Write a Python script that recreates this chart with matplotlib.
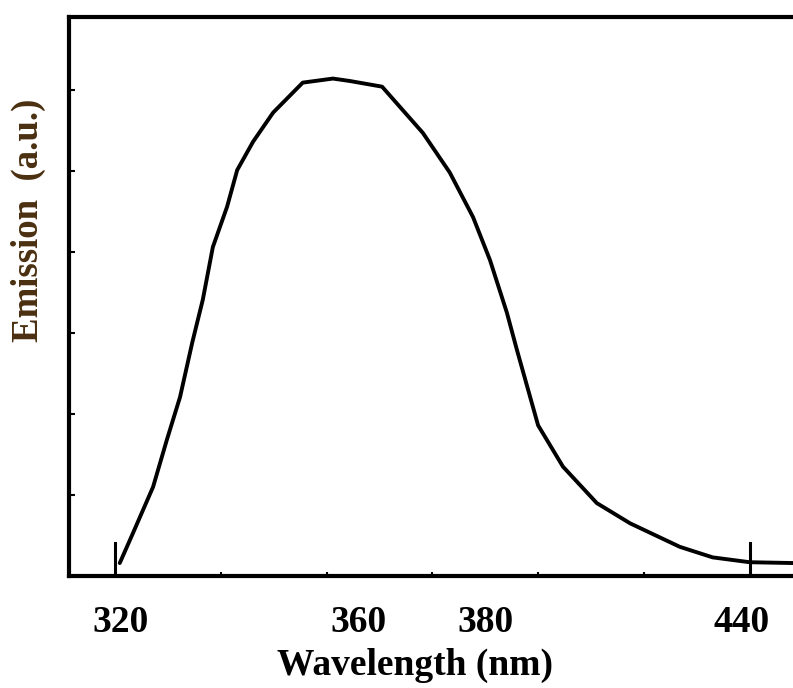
import matplotlib
matplotlib.use("Agg")
import matplotlib.pyplot as plt
import numpy as np

# Data
wavelength_nm = [320.9, 323.4, 327.2, 329.8, 332.3, 334.6, 336.6, 338.5, 341.2,
                 343.1, 346.1, 349.9, 355.5, 361.2, 364.4, 370.5, 378.2, 383.3,
                 387.7, 390.9, 394.1, 396.0, 400.0, 404.7, 411.1, 417.4, 426.8,
                 433.0, 440.0, 448.2]
emission_au = [16, 53, 110, 168, 221, 288, 341, 406, 456, 501, 536, 572, 609, 614,
               611, 604, 547, 498, 443, 390, 325, 279, 186, 135, 90, 65, 36, 23,
               17, 16]

tick_label_pos = [321.1, 366.0, 390.1, 438.5]
tick_labels = ["320", "360", "380", "440"]
long_tick_pos = [320, 440]
short_tick_pos = [340, 360, 380, 400, 420]
y_tick_pos = [100, 200, 300, 400, 500, 600]

W, H = 793, 688
fig = plt.figure(figsize=(W / 100, H / 100), dpi=100)
ax = fig.add_axes([69 / W, (H - 576) / H, (W - 69) / W, (576 - 17) / H])

ax.plot(wavelength_nm, emission_au, color="black", lw=2.8, solid_capstyle="round",
        solid_joinstyle="round")

ax.set_xlim(311.3, 448.2)
ax.set_ylim(0, 690)

for s in ["left", "top", "bottom"]:
    ax.spines[s].set_linewidth(3)
    ax.spines[s].set_color("black")
ax.spines["right"].set_visible(False)

# long ticks at 320 and 440
for xv in long_tick_pos:
    ax.axvline(xv, ymin=0, ymax=33 / 559, color="black", lw=2.2)

ax.set_xticks(tick_label_pos)
ax.set_xticklabels(tick_labels)
ax.set_xticks(short_tick_pos, minor=True)
ax.tick_params(axis="x", which="major", length=0, pad=21)
ax.tick_params(axis="x", which="minor", direction="in", length=3, width=1.5)
for lab in ax.get_xticklabels():
    lab.set_fontfamily("Liberation Serif")
    lab.set_fontweight("bold")
    lab.set_fontsize(27)

ax.set_yticks(y_tick_pos)
ax.set_yticklabels([])
ax.tick_params(axis="y", which="major", direction="in", length=4, width=1.5)

ax.set_xlabel("Wavelength (nm)", fontfamily="Liberation Serif", fontweight="bold",
              fontsize=27, color="black")
ax.xaxis.set_label_coords((415 - 69) / (W - 69), -(665 - 576) / 559)
ax.xaxis.label.set_va("center")

ax.set_ylabel("Emission  (a.u.)", fontfamily="Liberation Serif", fontweight="bold",
              fontsize=26.5, color="#4a3010")
ax.yaxis.set_label_coords((28 - 69) / (W - 69), (576 - 220) / 559)
ax.yaxis.label.set_va("center")

fig.savefig("out.png", dpi=100)
